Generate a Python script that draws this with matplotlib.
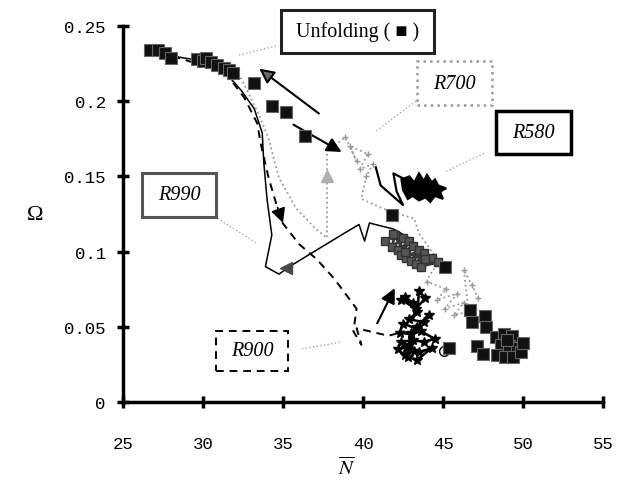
import matplotlib
matplotlib.use("Agg")
import matplotlib.pyplot as plt
from matplotlib.patches import Rectangle

plt.rcParams["mathtext.fontset"] = "stix"

# Unfolding points (black squares)
unfold_x = [26.7, 27.2, 27.6, 28.0, 29.6, 30.0, 30.2, 30.5, 30.9, 31.3, 31.6, 31.9,
            33.2, 34.3, 35.2, 36.4, 41.8, 45.1, 46.7, 46.8, 47.6, 47.7, 45.4, 47.1, 47.5,
            48.3, 48.8, 49.3, 48.6, 49.1, 49.6, 48.4, 48.9, 49.4, 49.9, 50.0, 49.0]
unfold_y = [0.234, 0.234, 0.232, 0.229, 0.228, 0.227, 0.229, 0.226, 0.224, 0.222, 0.221, 0.219,
            0.212, 0.197, 0.193, 0.177, 0.124, 0.090, 0.061, 0.053, 0.057, 0.050, 0.036, 0.037, 0.032,
            0.043, 0.045, 0.044, 0.038, 0.037, 0.036, 0.031, 0.030, 0.030, 0.033, 0.039, 0.041]

# R990 trajectory (thin solid) and its end cluster
r990_x = [28.1, 29.8, 31.4, 32.4, 33.2, 33.7, 33.8, 34.0, 34.3, 33.9, 34.75, 35.4,
          37.25, 38.8, 39.75, 40.1, 40.4, 41.9, 42.9]
r990_y = [0.230, 0.227, 0.219, 0.207, 0.195, 0.179, 0.159, 0.135, 0.111, 0.090, 0.085, 0.090,
          0.102, 0.112, 0.118, 0.107, 0.119, 0.115, 0.109]
r990c_x = [41.4, 42.0, 41.8, 42.5, 42.2, 42.9, 42.4, 43.1, 42.7, 43.5, 43.0, 43.8, 43.3,
           44.3, 43.6, 44.7, 43.9, 42.6, 41.9]
r990c_y = [0.107, 0.111, 0.103, 0.109, 0.101, 0.107, 0.098, 0.104, 0.096, 0.101, 0.094, 0.099,
           0.092, 0.096, 0.090, 0.093, 0.095, 0.100, 0.112]

# R900 trajectory (dashed) and its end cluster
r900_x = [28.1, 31.4, 32.6, 33.4, 33.6, 34.1, 34.9, 36.0, 37.1, 38.2, 39.6, 39.4, 39.9,
          39.6, 41.6, 42.6]
r900_y = [0.230, 0.219, 0.202, 0.185, 0.172, 0.149, 0.120, 0.105, 0.095, 0.082, 0.062, 0.047,
          0.038, 0.049, 0.044, 0.047]
r900c_x = [42.6, 43.1, 42.4, 43.3, 43.9, 43.5, 43.4, 42.9, 43.8, 44.1, 43.3, 42.5, 42.3,
           43.0, 43.6, 44.5, 43.8, 43.1, 42.4, 42.7, 43.2, 42.6, 42.2, 42.9, 43.5, 44.3,
           43.4, 42.8, 43.0, 43.4]
r900c_y = [0.070, 0.066, 0.068, 0.062, 0.069, 0.074, 0.060, 0.055, 0.053, 0.058, 0.049, 0.052,
           0.046, 0.045, 0.047, 0.042, 0.040, 0.041, 0.040, 0.036, 0.034, 0.031, 0.035, 0.038,
           0.033, 0.036, 0.028, 0.030, 0.046, 0.050]

# R700 trajectory (grey dotted)
r700_x = [31.6, 32.4, 33.5, 34.1, 34.75, 35.8, 37.06, 37.75, 37.75, 38.9, 39.6, 39.2, 40.3,
          39.8, 40.6, 40.2, 39.9, 41.6, 43.2, 43.5, 44.3, 44.8, 44.2, 44.0, 45.2, 44.6, 45.9,
          45.1, 46.3, 45.7, 46.6, 46.3, 46.8, 47.2]
r700_y = [0.221, 0.215, 0.191, 0.175, 0.149, 0.129, 0.115, 0.109, 0.167, 0.176, 0.160, 0.170,
          0.165, 0.155, 0.158, 0.150, 0.135, 0.127, 0.122, 0.112, 0.100, 0.093, 0.085, 0.080,
          0.075, 0.068, 0.072, 0.062, 0.066, 0.058, 0.060, 0.088, 0.078, 0.069]

# R580 trajectory (solid) and the outline of its end cluster
r580_x = [40.8, 41.1, 42.5, 42.1, 41.9, 42.8, 44.9]
r580_y = [0.156, 0.144, 0.131, 0.140, 0.152, 0.147, 0.140]
r580c_x = [42.4, 42.9, 43.2, 43.5, 43.8, 44.0, 44.3, 44.5, 44.7, 45.2, 44.8, 45.0, 44.5,
           44.2, 43.9, 43.5, 43.1, 42.8, 42.5]
r580c_y = [0.148, 0.150, 0.146, 0.152, 0.147, 0.151, 0.146, 0.148, 0.144, 0.142, 0.140, 0.135,
           0.137, 0.133, 0.136, 0.134, 0.137, 0.135, 0.141]

fig = plt.figure(figsize=(6.17, 4.89), dpi=100)
ax = fig.add_axes([0.1994, 0.1759, 0.7779, 0.7689])

# trajectories
ax.plot(r700_x, r700_y, color="#9a9a9a", ls=":", lw=1.3, zorder=1)
ax.plot(r700_x[9:16], r700_y[9:16], color="#9a9a9a", ls="none", marker="+", ms=4, zorder=1)
ax.plot(r700_x[23:], r700_y[23:], color="#9a9a9a", ls="none", marker="+", ms=4, zorder=1)
ax.plot(r990_x, r990_y, color="black", lw=1.1, zorder=2)
ax.plot(r990c_x, r990c_y, color="#3a3a3a", lw=2, marker="s", ms=6, mfc="#555555",
        mec="#333333", zorder=2)
ax.plot(r900_x, r900_y, color="black", lw=1.4, ls=(0, (4, 3)), zorder=2)
ax.plot(r900c_x, r900c_y, color="black", lw=1.8, marker="*", ms=7, zorder=2)
ax.plot(r580_x, r580_y, color="black", lw=1.6, zorder=2)
ax.fill(r580c_x, r580c_y, color="black", lw=1.5, zorder=2)

# unfolding squares
ax.plot(unfold_x, unfold_y, ls="none", marker="s", ms=8, mfc="#111111", mec="#666666",
        mew=0.8, zorder=4)
ax.plot([45.05], [0.034], ls="none", marker="o", ms=7, mfc="none", mec="black", mew=1, zorder=3)

# small marks along the paths
ax.plot([37.75], [0.150], ls="none", marker="^", ms=8, color="#b0b0b0", zorder=1)
ax.plot([35.2], [0.089], ls="none", marker="<", ms=9, color="#4a4a4a", zorder=3)

# arrows
ax.annotate("", xy=(33.38, 0.2227), xytext=(37.38, 0.1907),
            arrowprops=dict(arrowstyle="-|>", mutation_scale=22, lw=1.5, ec="black", fc="#6a6a6a"))
ax.annotate("", xy=(38.81, 0.1653), xytext=(35.5, 0.1853),
            arrowprops=dict(arrowstyle="-|>", mutation_scale=22, lw=1.5, color="black"))
ax.annotate("", xy=(35.06, 0.1173), xytext=(34.6, 0.131),
            arrowprops=dict(arrowstyle="-|>", mutation_scale=22, lw=1.2, color="black"))
ax.annotate("", xy=(42.06, 0.0773), xytext=(40.81, 0.0507),
            arrowprops=dict(arrowstyle="-|>", mutation_scale=22, lw=1.5, color="black"))

# leader lines from the labels
leaders = [((34.56, 32.25), (0.2367, 0.2307)),
           ((43.3, 40.8), (0.200, 0.180)),
           ((47.56, 45.19), (0.1653, 0.1533)),
           ((30.9, 33.4), (0.122, 0.1053)),
           ((36.19, 38.69), (0.0353, 0.040))]
for lx, ly in leaders:
    ax.plot(lx, ly, color="#aaaaaa", ls=":", lw=1.0, zorder=1)

# label boxes
def label_box(x0, x1, y0, y1, text, ec, ls="-", lw=2.0, italic=True):
    ax.add_patch(Rectangle((x0, y0), x1 - x0, y1 - y0, fill=True, fc="white", ec=ec,
                           ls=ls, lw=lw, clip_on=False, zorder=5))
    ax.text((x0 + x1) / 2, (y0 + y1) / 2, text, ha="center", va="center",
            fontsize=14.5, style="italic" if italic else "normal",
            family=["Liberation Serif", "DejaVu Sans"], zorder=6, clip_on=False)

label_box(34.875, 44.44, 0.232, 0.2607, "Unfolding ( \u25a0 )", "#222222", lw=2.2, italic=False)
label_box(43.375, 48.06, 0.1973, 0.2267, "R700", "#999999", ls=":", lw=1.8)
label_box(48.31, 53.0, 0.1647, 0.1933, "R580", "black", lw=2.5)
label_box(26.19, 30.81, 0.1233, 0.152, "R990", "#555555", lw=2.2)
label_box(30.81, 35.31, 0.0207, 0.0473, "R900", "black", ls=(0, (4, 3)), lw=1.4)

# axes styling
ax.set_xlim(25, 55)
ax.set_ylim(0, 0.25)
ax.spines["top"].set_visible(False)
ax.spines["right"].set_visible(False)
for s in ("left", "bottom"):
    ax.spines[s].set_linewidth(2.5)
ax.set_xticks([25, 30, 35, 40, 45, 50, 55])
ax.set_yticks([0, 0.05, 0.1, 0.15, 0.2, 0.25])
ax.set_yticklabels(["0", "0.05", "0.1", "0.15", "0.2", "0.25"])
ax.tick_params(direction="inout", length=9, width=2.5, labelsize=12.5)
ax.tick_params(axis="x", pad=20)
ax.tick_params(axis="y", pad=8)
for lab in ax.get_xticklabels() + ax.get_yticklabels():
    lab.set_family("Liberation Mono")

fig.text(35 / 617, 1 - 215 / 489, "\u03a9", fontsize=16, family="Liberation Serif",
         ha="center", va="center")
fig.text(347 / 617, 1 - 468 / 489, r"$\overline{N}$", fontsize=15, ha="center", va="center")

fig.savefig("out.png", dpi=100)
